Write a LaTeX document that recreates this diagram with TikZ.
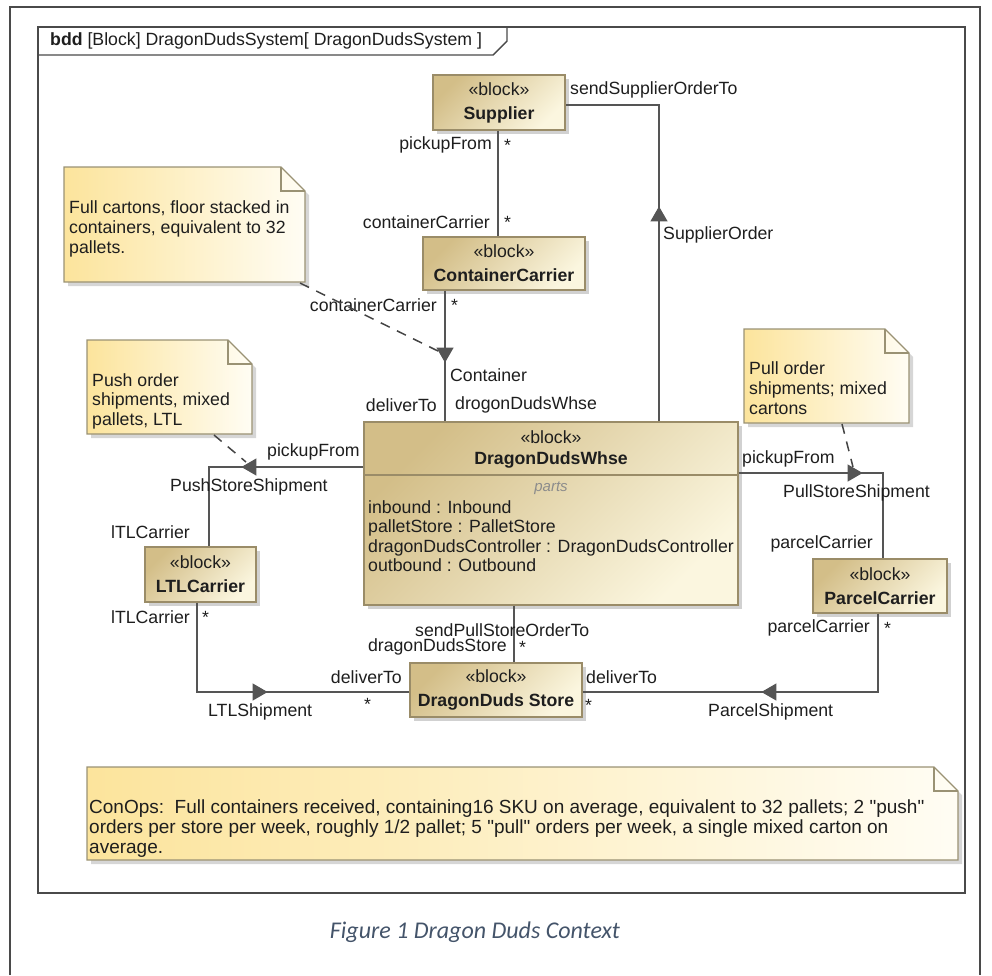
\documentclass[tikz,border=0pt]{standalone}
\usepackage{fontspec}
\setmainfont{Liberation Sans}
\newfontfamily\opsfont[Ligatures=ResetAll]{Liberation Sans}
\newfontfamily\capfont{Carlito}
\usepackage{tikz}
\usetikzlibrary{calc,arrows.meta,shadows,decorations.markings}
\definecolor{pageline}{HTML}{4A4A4A}
\definecolor{wire}{HTML}{555555}
\definecolor{ink}{HTML}{1E1E1E}
\definecolor{blockdark}{HTML}{D3BE88}
\definecolor{blocklight}{HTML}{FBF6DF}
\definecolor{blockedge}{HTML}{9A8C68}
\definecolor{notedark}{HTML}{FCE49C}
\definecolor{notelight}{HTML}{FFFDF4}
\definecolor{noteedge}{HTML}{9A9274}
\definecolor{partsgray}{HTML}{8C8C8C}
\definecolor{capblue}{HTML}{44546A}
\tikzset{
  lbl/.style={text=ink, font=\fontsize{17.7}{20}\selectfont, inner sep=0pt},
  star/.style={lbl, anchor=base west},
  block/.style={draw=blockedge, line width=1.2pt, top color=blockdark, bottom color=blocklight, shading angle=45,
    drop shadow={shadow xshift=4pt, shadow yshift=-4pt, fill=black!40, opacity=0.45},
    align=center, text=ink, font=\fontsize{17.7}{24}\selectfont, inner sep=0pt},
  note/.style={draw=noteedge, line width=1.2pt, left color=notedark, right color=notelight,
    drop shadow={shadow xshift=4pt, shadow yshift=-4pt, fill=black!40, opacity=0.4}},
  fold/.style={draw=noteedge, line width=1.2pt},
  notetext/.style={lbl, align=left, anchor=north west},
  frameline/.style={draw=pageline, line width=1.4pt},
  conn/.style={draw=wire, line width=1.3pt},
  flowat/.style={postaction={decorate, decoration={markings,
    mark=at position #1 with {\arrow{Triangle[length=15pt,width=17pt]}}}}},
  tieline/.style={draw=wire!80!black, line width=1.5pt, dash pattern=on 10pt off 8pt},
}

\begin{document}
\begin{tikzpicture}[x=1pt,y=-1pt]
  \useasboundingbox (0,0) rectangle (992,975);

  % page and bdd frame
  \draw[frameline] (10,975) -- (10,7) -- (980,7) -- (980,975);
  \draw[frameline] (38,27) rectangle (965,893);
  \draw[frameline] (38,55) -- (493,55) -- (507,41) -- (507,27);
  \node[lbl, anchor=west] (frameTitle) at (50,41) {\textbf{bdd} [Block] DragonDudsSystem[ DragonDudsSystem ]};

  % bends and free ends
  \coordinate (supccX) at (498,180);
  \coordinate (soBend) at (659,105);
  \coordinate (ccX) at (445,350);
  \coordinate (pushBend) at (209,467);
  \coordinate (pullBend) at (883,473);
  \coordinate (wsX) at (514,640);
  \coordinate (ltlBend) at (197,692);
  \coordinate (pcBend) at (878,692);

  % blocks
  \node[block, minimum width=132pt, minimum height=55pt] (sup) at (499,102.5) {«block»\\\textbf{Supplier}};
  \node[block, minimum width=162pt, minimum height=53pt] (cc) at (504,263.5) {«block»\\\textbf{ContainerCarrier}};
  \node[block, minimum width=374pt, minimum height=183pt] (whse) at (551,513.5) {};
  \node[block, minimum width=111pt, minimum height=55pt] (ltl) at (200.5,574.5) {«block»\\\textbf{LTLCarrier}};
  \node[block, minimum width=134pt, minimum height=54pt] (pc) at (880,586) {«block»\\\textbf{ParcelCarrier}};
  \node[block, minimum width=172pt, minimum height=54pt] (store) at (496,690) {«block»\\\textbf{DragonDuds Store}};

  % associations
  \draw[conn] (sup.south -| supccX) -- (cc.north -| supccX);
  \draw[conn, flowat=215pt] (whse.north -| soBend) -- (soBend) -- (sup.east |- soBend);
  \draw[conn, flowat=72pt] (cc.south -| ccX) -- (whse.north -| ccX);
  \draw[conn, flowat=122pt] (whse.west |- pushBend) -- (pushBend) -- (ltl.north -| pushBend);
  \draw[conn, flowat=124pt] (whse.east |- pullBend) -- (pullBend) -- (pc.north -| pullBend);
  \draw[conn] (whse.south -| wsX) -- (store.north -| wsX);
  \draw[conn, flowat=160pt] (ltl.south -| ltlBend) -- (ltlBend) -- (store.west |- ltlBend);
  \draw[conn, flowat=195pt] (pc.south -| pcBend) -- (pcBend) -- (store.east |- pcBend);

  % warehouse compartments
  \coordinate (whseSep) at (551,475);
  \node[lbl] (whseSt) at (551,437) {«block»};
  \node[lbl, font=\fontsize{17.7}{20}\selectfont\bfseries] (whseName) at (551,460) {DragonDudsWhse};
  \draw[draw=blockedge, line width=1.2pt] (whse.west |- whseSep) -- (whse.east |- whseSep);
  \node[lbl, text=partsgray, font=\fontsize{15}{18}\selectfont\itshape] (whseParts) at (551,488) {parts};
  \node[lbl, align=left, anchor=west, font=\fontsize{17.7}{19.4}\selectfont] (whseList) at (368,536)
    {inbound : Inbound\\palletStore : PalletStore\\dragonDudsController : DragonDudsController\\outbound : Outbound};

  % comments
  \coordinate (nFull-nw) at (64,167);   \coordinate (nFull-se) at (305,282);
  \coordinate (nPush-nw) at (87,340);   \coordinate (nPush-se) at (252,434);
  \coordinate (nPull-nw) at (744,329);  \coordinate (nPull-se) at (909,423);
  \coordinate (nOps-nw) at (87,767);    \coordinate (nOps-se) at (958,860);
  \foreach \n in {nFull,nPush,nPull,nOps} {
    \path[note] (\n-nw) -- ($(\n-nw -| \n-se)+(-24,0)$) -- ($(\n-nw -| \n-se)+(0,24)$)
      -- (\n-se) -- (\n-nw |- \n-se) -- cycle;
    \draw[fold] ($(\n-nw -| \n-se)+(-24,0)$) -- ++(0,24) -- ++(24,0);
  }
  \node[notetext] (tFull) at (69,200) {Full cartons, floor stacked in\\containers, equivalent to 32\\pallets.};
  \node[notetext, font=\fontsize{17.7}{19.5}\selectfont] (tPush) at (92,373) {Push order\\shipments, mixed\\pallets, LTL};
  \node[notetext] (tPull) at (749,361) {Pull order\\shipments; mixed\\cartons};
  \node[notetext, font=\opsfont\fontsize{19}{20}\selectfont] (tOps) at (89,800)
    {ConOps:\ \ Full containers received, containing16 SKU on average, equivalent to 32 pallets; 2 "push"\\
     orders per store per week, roughly 1/2 pallet; 5 "pull" orders per week, a single mixed carton on\\
     average.};

  % role and flow labels
  \node[lbl, anchor=east] (lbSupPick) at (492,145) {pickupFrom};
  \node[star] (lbSupStar) at (504,151) {*};
  \node[lbl, anchor=east] (lbCcRole) at (490,222) {containerCarrier};
  \node[star] (lbCcStar) at (504,228) {*};
  \node[lbl, anchor=west] (lbSendSup) at (570,90) {sendSupplierOrderTo};
  \node[lbl, anchor=west] (lbSupOrd) at (663,235) {SupplierOrder};
  \node[lbl, anchor=east] (lbCcCarr) at (437,305) {containerCarrier};
  \node[star] (lbCcStarB) at (451,311) {*};
  \node[lbl, anchor=west] (lbContainer) at (450,375) {Container};
  \node[lbl, anchor=east] (lbDelivW) at (437,405) {deliverTo};
  \node[lbl, anchor=west] (lbDrogon) at (455,405) {drogonDudsWhse};
  \node[lbl, anchor=west] (lbPickL) at (267,452) {pickupFrom};
  \node[lbl, anchor=west] (lbPushShip) at (170,487) {PushStoreShipment};
  \node[lbl, anchor=east] (lbLtlTop) at (190,532) {lTLCarrier};
  \node[lbl, anchor=west] (lbPickR) at (742,459) {pickupFrom};
  \node[lbl, anchor=west] (lbPullShip) at (783,493) {PullStoreShipment};
  \node[lbl, anchor=east] (lbParcTop) at (873,544) {parcelCarrier};
  \node[lbl, anchor=west] (lbSendPull) at (415,630) {sendPullStoreOrderTo};
  \node[lbl, anchor=east] (lbDdStore) at (507,647) {dragonDudsStore};
  \node[star] (lbDdStar) at (519,653) {*};
  \node[lbl, anchor=east] (lbLtlBot) at (190,617) {lTLCarrier};
  \node[star] (lbLtlStar) at (202,623) {*};
  \node[lbl, anchor=east] (lbDelivL) at (402,677) {deliverTo};
  \node[star] (lbDelivLStar) at (364,710) {*};
  \node[lbl, anchor=west] (lbLtlShip) at (208,712) {LTLShipment};
  \node[lbl, anchor=east] (lbParcBot) at (870,628) {parcelCarrier};
  \node[star] (lbParcStar) at (884,634) {*};
  \node[lbl, anchor=west] (lbDelivR) at (586,677) {deliverTo};
  \node[star] (lbDelivRStar) at (585,711) {*};
  \node[lbl, anchor=west] (lbParcShip) at (708,712) {ParcelShipment};

  % comment anchors
  \coordinate (nFullTail) at (300,283);  \coordinate (ccFlow) at (440,352);
  \coordinate (nPushTail) at (214,435);  \coordinate (pushFlow) at (246,462);
  \coordinate (nPullTail) at (842,424);  \coordinate (pullFlow) at (853,467);
  \draw[tieline] (nFullTail) -- (ccFlow);
  \draw[tieline] (nPushTail) -- (pushFlow);
  \draw[tieline] (nPullTail) -- (pullFlow);

  % caption
  \node[text=capblue, font=\capfont\itshape\fontsize{24}{28}\selectfont, inner sep=0pt] (caption) at (475,932)
    {Figure 1 Dragon Duds Context};
\end{tikzpicture}
\end{document}
